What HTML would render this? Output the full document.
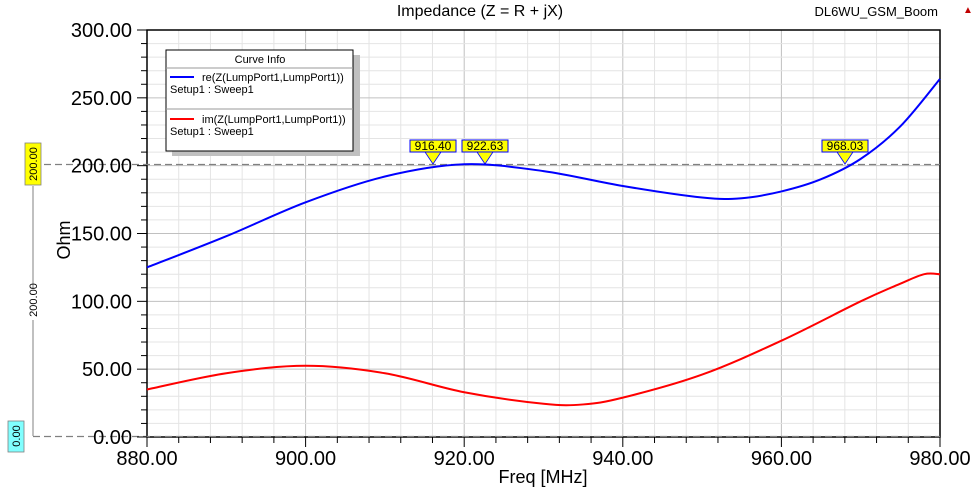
<!DOCTYPE html>
<html><head><meta charset="utf-8"><style>
body{margin:0;background:#fff;}
svg{display:block;font-family:"Liberation Sans",sans-serif;}
</style></head><body>
<svg id="s" width="979" height="488" xmlns="http://www.w3.org/2000/svg">
<g id="grid"></g>
<rect x="147" y="30" width="793" height="407" fill="none" stroke="#000" stroke-width="1.5"/>
<line x1="33" y1="164.5" x2="940" y2="164.5" stroke="#808080" stroke-dasharray="7,4" stroke-width="1.2"/>
<line x1="33" y1="436.5" x2="940" y2="436.5" stroke="#808080" stroke-dasharray="7,4" stroke-width="1.2"/>
<line x1="33" y1="186" x2="33" y2="288" stroke="#808080"/>
<line x1="33" y1="320" x2="33" y2="436" stroke="#808080"/>
<text x="33" y="300" font-size="11" text-anchor="middle" transform="rotate(-90 33 300)" dy="4">200.00</text>
<rect x="25" y="143" width="16" height="42" fill="#ffff00" stroke="#808080" stroke-width="0.8"/>
<text x="33" y="164" font-size="11" text-anchor="middle" transform="rotate(-90 33 164)" dy="4">200.00</text>
<rect x="8" y="421" width="16" height="31" fill="#80ffff" stroke="#808080" stroke-width="0.8"/>
<text x="16" y="436" font-size="11" text-anchor="middle" transform="rotate(-90 16 436)" dy="4">0.00</text>
<g id="ticks"></g>
<path id="blue" fill="none" stroke="#0000ff" stroke-width="2"/>
<path id="red" fill="none" stroke="#ff0000" stroke-width="2"/>
<text x="480" y="16" font-size="16" text-anchor="middle">Impedance (Z = R + jX)</text>
<text x="938" y="16" font-size="13" text-anchor="end">DL6WU_GSM_Boom</text>
<text x="963" y="13" font-size="10" fill="#c00000">▲</text>
<text x="543" y="483" font-size="18" text-anchor="middle">Freq [MHz]</text>
<text x="70" y="240" font-size="18" text-anchor="middle" transform="rotate(-90 70 240)">Ohm</text>
<rect x="172" y="55" width="188" height="101" fill="#c0c0c0"/>
<rect x="166" y="50" width="187" height="101" fill="#fff" stroke="#000"/>
<text x="260" y="63" font-size="11" text-anchor="middle">Curve Info</text>
<line x1="166" y1="68" x2="353" y2="68" stroke="#999"/>
<line x1="166" y1="109" x2="353" y2="109" stroke="#999"/>
<line x1="170" y1="77" x2="194" y2="77" stroke="#0000ff" stroke-width="2"/>
<text x="202" y="81" font-size="11">re(Z(LumpPort1,LumpPort1))</text>
<text x="170" y="93" font-size="11">Setup1 : Sweep1</text>
<line x1="170" y1="119" x2="194" y2="119" stroke="#ff0000" stroke-width="2"/>
<text x="202" y="123" font-size="11">im(Z(LumpPort1,LumpPort1))</text>
<text x="170" y="135" font-size="11">Setup1 : Sweep1</text>
<g id="mk"></g>
</svg>
<script>
const X=f=>147+(f-880)*793/100, Y=v=>437-v*407/300;
const ns="http://www.w3.org/2000/svg";
function el(p,t,a,txt){const e=document.createElementNS(ns,t);for(const k in a)e.setAttribute(k,a[k]);if(txt)e.textContent=txt;document.getElementById(p).appendChild(e);return e;}
for(let f=884;f<980;f+=4){el("grid","line",{x1:X(f),x2:X(f),y1:30,y2:437,stroke:(f%20==0)?"#c0c0c0":"#e4e4e4"});}
for(let v=10;v<300;v+=10){el("grid","line",{x1:147,x2:940,y1:Y(v),y2:Y(v),stroke:(v%50==0)?"#c0c0c0":"#e4e4e4"});}
for(let v=0;v<=300;v+=10){el("ticks","line",{x1:v%50==0?137:141,x2:147,y1:Y(v),y2:Y(v),stroke:"#000"});
 if(v%50==0)el("ticks","text",{x:132,y:Y(v)+7,"font-size":20,"text-anchor":"end"},v.toFixed(2));}
for(let f=880;f<=980;f+=4){el("ticks","line",{x1:X(f),x2:X(f),y1:437,y2:f%20==0?447:443,stroke:"#000"});
 if(f%20==0)el("ticks","text",{x:X(f),y:465,"font-size":20,"text-anchor":"middle"},f.toFixed(2));}
function path(d){const p=d.map(a=>[X(a[0]),Y(a[1])]);let s="M"+p[0];for(let i=0;i<p.length-1;i++){const p0=p[i-1]||p[i],p1=p[i],p2=p[i+1],p3=p[i+2]||p2;
 s+=" C"+(p1[0]+(p2[0]-p0[0])/6)+","+(p1[1]+(p2[1]-p0[1])/6)+" "+(p2[0]-(p3[0]-p1[0])/6)+","+(p2[1]-(p3[1]-p1[1])/6)+" "+p2;}return s;}
document.getElementById("blue").setAttribute("d",path([[880,125],[890,148],[900,173],[910,192],[920,201],[930,196],[940,185],[950,176.5],[955,176],[960,181],[965,190],[970,205],[975,229],[980,264]]));
document.getElementById("red").setAttribute("d",path([[880,35],[890,47],[900,52.5],[910,47],[920,33],[930,24.5],[935,24],[940,29],[950,46],[960,71],[970,100],[975,113],[978,120],[980,120]]));
[[916.4,433],[922.63,485],[968.03,845]].forEach(([f,x])=>{
 el("mk","polygon",{points:`${x-8},152 ${x+8},152 ${x},164`,fill:"#ffff00",stroke:"#0000ff","stroke-width":0.8});
 el("mk","rect",{x:x-23,y:140,width:46,height:12,fill:"#ffff00",stroke:"#0000ff","stroke-width":1});
 el("mk","text",{x:x,y:150,"font-size":12,"text-anchor":"middle"},f.toFixed(2));});
</script>
</body></html>
